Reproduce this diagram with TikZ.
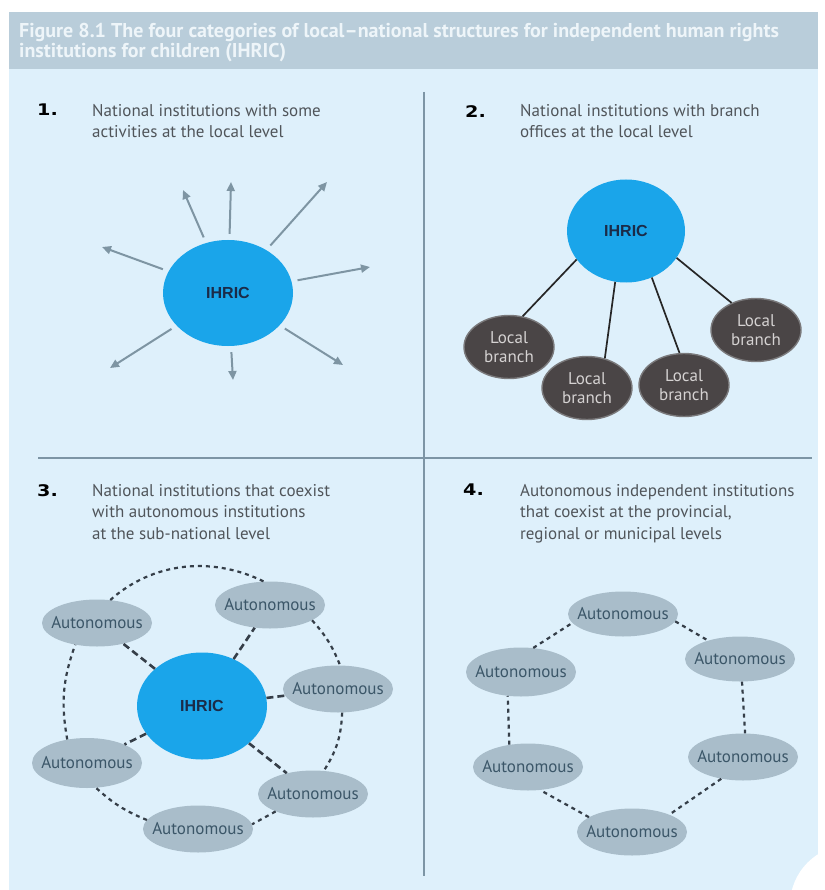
\documentclass[tikz,border=0pt]{standalone}
\usepackage{fontspec}
\setmainfont{PT Sans}
\newfontfamily\numfont{DejaVu Sans}[FakeStretch=1.2]
\newfontfamily\ihricfont{Liberation Sans}
\usepackage{xcolor}
\usetikzlibrary{arrows.meta, shapes.geometric, positioning}

\definecolor{bandblue}{HTML}{B9CDDA}
\definecolor{panelblue}{HTML}{DEF0FB}
\definecolor{titlewhite}{HTML}{EEF5F9}
\definecolor{rulegrey}{HTML}{7D95A5}
\definecolor{ihricblue}{HTML}{1AA5EA}
\definecolor{ihricnavy}{HTML}{1B2B48}
\definecolor{raygrey}{HTML}{7E95A3}
\definecolor{branchgrey}{HTML}{4A4546}
\definecolor{branchrim}{HTML}{7A797B}
\definecolor{branchtext}{HTML}{D5D2D2}
\definecolor{autofill}{HTML}{A9BDCA}
\definecolor{autotext}{HTML}{3B5668}
\definecolor{ringgrey}{HTML}{353E48}
\definecolor{headgrey}{HTML}{50555A}

\begin{document}
\begin{tikzpicture}[
        x=1pt, y=-1pt,
        heading/.style={anchor=north west, inner sep=0pt, align=left, text=headgrey, font=\fontsize{17}{21.5}\selectfont},
        number/.style={anchor=north west, inner sep=0pt, font=\numfont\bfseries\fontsize{16}{16}\selectfont},
        ihric/.style={ellipse, fill=ihricblue, inner sep=0pt, text=ihricnavy, font=\ihricfont\bfseries\fontsize{16}{16}\selectfont},
        branch/.style={ellipse, fill=branchgrey, draw=branchrim, line width=1.4pt, minimum width=90pt, minimum height=63pt, inner sep=0pt, align=center, text=branchtext, font=\fontsize{17}{19}\selectfont},
        auto/.style={ellipse, fill=autofill, minimum width=110pt, minimum height=47pt, inner xsep=-20pt, inner ysep=0pt, text=autotext, font=\fontsize{17}{17}\selectfont},
        ray/.style={-{Triangle[length=9pt, width=8pt]}, line width=2pt, draw=raygrey, shorten <=6pt},
        link/.style={line width=1.7pt, draw=black!85},
        ring/.style={line width=2.2pt, draw=ringgrey, dash pattern=on 4pt off 4pt},
        spoke/.style={line width=2.6pt, draw=ringgrey, dash pattern=on 7pt off 4pt},
        divider/.style={line width=1.6pt, draw=rulegrey}
    ]
    % page, title band and panel (pixel grid, y downwards)
    \useasboundingbox (0,0) rectangle (824,890);
    \fill[white] (0,0) rectangle (824,890);
    \fill[bandblue] (9,12) rectangle (818,69);
    \fill[panelblue] (9,69) rectangle (818,890);
    \node[anchor=north west, inner sep=0pt, align=left, text=titlewhite, font=\bfseries\fontsize{20}{20.5}\selectfont] (title) at (19,23)
        {Figure 8.1 The four categories of local--national structures for independent human rights\\institutions for children (IHRIC)};

    % quadrant rules
    \draw[divider] (424,92) -- (424,876);
    \draw[divider] (38,458) -- (812,458);

    % --- 1. national institution with local activities ---
    \node[number] (n1) at (37,104) {1.};
    \node[heading] (t1) at (92,104) {National institutions with some\\activities at the local level};
    \node[ihric, minimum width=130pt, minimum height=106pt] (ih1) at (228,293) {IHRIC};
    \foreach \k/\x/\y in {1/183/190, 2/231/182, 3/327/182, 4/102/247, 5/370/267, 6/110/368, 7/233/380, 8/343/365} {
        \coordinate (tip\k) at (\x,\y);
        \draw[ray] (ih1) -- (tip\k);
    }

    % --- 2. national institution with local branches ---
    \node[number] (n2) at (465,105) {2.};
    \node[heading] (t2) at (520,104) {National institutions with branch\\offices at the local level};
    \node[ihric, minimum width=118pt, minimum height=103pt] (ih2) at (626,231) {IHRIC};
    \node[branch] (b1) at (509,347) {Local\\branch};
    \node[branch] (b2) at (587,388) {Local\\branch};
    \node[branch] (b3) at (684,385) {Local\\branch};
    \node[branch] (b4) at (756,330) {Local\\branch};
    \draw[link] (ih2.210) -- (b1.66);
    \draw[link] (ih2.258) -- (b2.59);
    \draw[link] (ih2.299) -- (b3.98);
    \draw[link] (ih2.332) -- (b4.132);

    % --- 3. national institution beside autonomous ones ---
    \node[number] (n3) at (37,484) {3.};
    \node[heading] (t3) at (92,484) {National institutions that coexist\\with autonomous institutions\\at the sub-national level};
    \node[ihric, minimum width=130pt, minimum height=107pt] (ih3) at (202,706) {IHRIC};
    \node[auto] (a1) at (97,623) {Autonomous};
    \node[auto] (a2) at (270,605) {Autonomous};
    \node[auto] (a3) at (338,689) {Autonomous};
    \node[auto, minimum height=50pt] (a4) at (87,763) {Autonomous};
    \node[auto] (a5) at (313,794) {Autonomous};
    \node[auto] (a6) at (198,829) {Autonomous};
    \draw[ring] (a1.60) .. controls (153,562) and (212,556) .. (a2.105);
    \draw[ring] (a2.-20) to[bend left=10] (a3.85);
    \draw[ring] (a3.-80) to[bend left=15] (a5.65);
    \draw[ring] (a5.205) -- (a6.5);
    \draw[ring] (a6.170) to[bend left=10] (a4.-70);
    \draw[ring] (a4.130) to[bend left=15] (a1.-135);
    \foreach \a in {a1, a2, a3, a4, a5}
        \draw[spoke] (ih3) -- (\a);

    % --- 4. autonomous institutions only ---
    \node[number] (n4) at (463,484) {4.};
    \node[heading] (t4) at (520,484) {Autonomous independent institutions\\that coexist at the provincial,\\regional or municipal levels};
    \node[auto, minimum height=45pt] (c1) at (623,614) {Autonomous};
    \node[auto, minimum height=45pt] (c2) at (740,659) {Autonomous};
    \node[auto, minimum height=49pt] (c3) at (521,672) {Autonomous};
    \node[auto, minimum height=47pt] (c4) at (743,757) {Autonomous};
    \node[auto, minimum height=47pt] (c5) at (528,767) {Autonomous};
    \node[auto, minimum height=47pt] (c6) at (632,832) {Autonomous};
    \draw[ring] (c1.-8) -- (c2.150);
    \draw[ring] (c2.-85) -- (c4.85);
    \draw[ring] (c4.225) -- (c6.25);
    \draw[ring] (c6.161) -- (c5.-62);
    \draw[ring] (c5.130) -- (c3.-119);
    \draw[ring] (c3.63) -- (c1.190);

    % page curl in the corner
    \fill[white] (850,905) circle (60);
\end{tikzpicture}
\end{document}
